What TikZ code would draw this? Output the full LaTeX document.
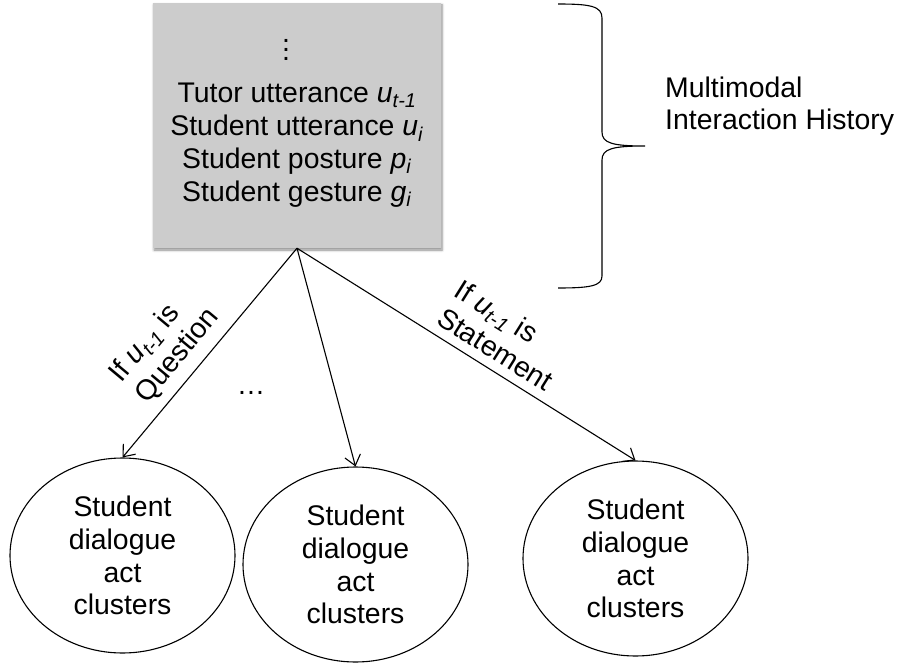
\documentclass[tikz,border=0pt]{standalone}
\usepackage{fontspec}
\setmainfont{Liberation Sans}
\usetikzlibrary{arrows.meta,shapes.geometric,shadows.blur}

% italic variable with italic subscript
\newcommand{\varsub}[2]{\textit{#1}\textsubscript{\textit{#2}}}
% tall vertical ellipsis built from three periods
\newcommand{\tallvdots}{\vbox{\baselineskip=9bp\lineskiplimit=-20bp\hbox{.}\hbox{.}\hbox{.}}}

\definecolor{boxgray}{RGB}{204,204,204}

\tikzset{
  bigtext/.style={font=\fontsize{28.5}{33}\selectfont},
  histbox/.style={rectangle, fill=boxgray, minimum width=288bp, minimum height=245bp,
    inner sep=0pt,
    blur shadow={shadow xshift=1bp, shadow yshift=-2bp, shadow blur steps=6,
      shadow blur radius=2.5bp, shadow opacity=45}},
  cluster/.style={ellipse, draw, line width=1.1bp, minimum width=225bp,
    minimum height=195bp, inner sep=0pt, align=center, bigtext},
  conn/.style={line width=1.1bp, -{Straight Barb[length=10bp,width=16bp,line width=1.1bp]}},
  condlabel/.style={sloped, above=6bp, align=left, bigtext, inner sep=3bp},
}

\begin{document}
\begin{tikzpicture}[x=1bp, y=-1bp]
  \useasboundingbox (0,0) rectangle (897,663);

  % interaction history box
  \node[histbox] (hist) at (297,125.5) {};
  \node[bigtext, anchor=base, inner sep=0pt] (histdots) at (286,61) {\tallvdots};
  \node[bigtext, align=center, inner sep=0pt, anchor=base] (histtext) at (297,201)
    {Tutor utterance \varsub{u}{t-1}\\
     Student utterance \varsub{u}{i}\\
     Student posture \varsub{p}{i}\\
     Student gesture \varsub{g}{i}};

  % brace and its label
  \draw[line width=1.1bp]
    (558,4) .. controls (590,4) and (602,6) .. (602,18)
    -- (602,132) .. controls (602,143) and (612,146) .. (645,146)
    .. controls (612,146) and (602,149) .. (602,160)
    -- (602,276) .. controls (602,286) and (590,288) .. (558,288);
  \node[bigtext, align=left, anchor=base west, inner sep=0pt] (mih) at (665,130)
    {Multimodal\\Interaction History};

  % dialogue act cluster nodes
  \node[cluster] (e1) at (122.5,555.5) {Student\\dialogue\\act\\clusters};
  \node[cluster] (e2) at (355.5,564.5) {Student\\dialogue\\act\\clusters};
  \node[cluster] (e3) at (635.5,558.5) {Student\\dialogue\\act\\clusters};

  % branches
  \draw[conn] (hist.south) -- node[condlabel, pos=0.585] (lq)
    {If \varsub{u}{t-1} is\\Question} (e1.north);
  \draw[conn] (hist.south) -- (e2.north);
  \draw[conn] (hist.south) -- node[condlabel, pos=0.555] (ls)
    {If \varsub{u}{t-1} is\\Statement} (e3.north);
  \node[bigtext, inner sep=0pt] (more) at (251,393) {…};
\end{tikzpicture}
\end{document}
